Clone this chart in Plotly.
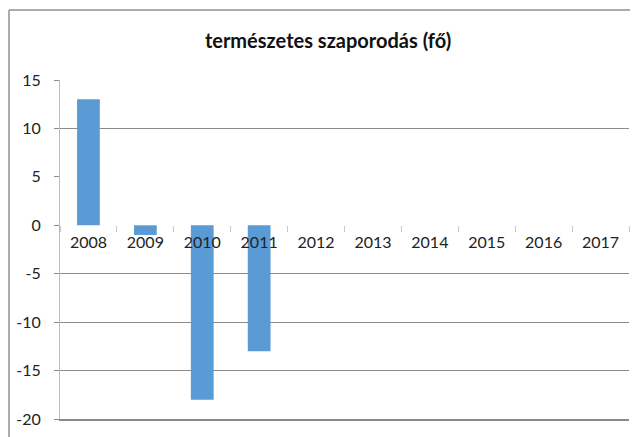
import plotly.graph_objects as go

years = ['2008', '2009', '2010', '2011', '2012', '2013', '2014', '2015', '2016', '2017']
values = [13, -1, -18, -13, None, None, None, None, None, None]
y_ticks = [-20, -15, -10, -5, 0, 5, 10, 15]
y_tick_labels = ['-20', '-15', '-10', '-5', '0', '5', '10', '15']
grid_vals = [-20, -15, -10, -5, 10, 15]
y_range = [-20, 15]
title_text = 'természetes szaporodás (fő)'

FONT = 'Lato'
OFF = 8  # page body margin of the html page
W, H = 638 - OFF, 437 - OFF
PL, PT, PW, PH = 60, 80, 569, 339  # plot area in page pixels
zero_pos = (0 - y_range[0]) / (y_range[1] - y_range[0])
cat_range = [-0.5, len(years) - 0.5]

fig = go.Figure()
# invisible copy on the main (grid) subplot so that its axes are drawn
fig.add_trace(go.Bar(x=years, y=values, marker=dict(color='rgba(0,0,0,0)', line=dict(width=0)),
                     xaxis='x', yaxis='y', hoverinfo='skip'))
# visible bars on the overlay subplot (labels at the zero line)
fig.add_trace(go.Bar(x=years, y=values, marker=dict(color='#5B9BD5', line=dict(width=0)),
                     xaxis='x2', yaxis='y2'))

bx = (9 - PL) / PW
ty = 1 + (PT - 10) / PH

fig.update_layout(
    width=W, height=H,
    margin=dict(l=PL - OFF, r=W - (PL - OFF) - PW, t=PT - OFF, b=H - (PT - OFF) - PH),
    paper_bgcolor='white', plot_bgcolor='white',
    showlegend=False,
    bargap=0.6,
    barmode='group',
    title=dict(text=title_text, x=(328 - OFF) / W, xref='container', xanchor='center',
               y=1 - (41 - OFF) / H, yref='container', yanchor='middle',
               font=dict(family=FONT, size=20, color='#111111', weight='bold')),
    xaxis=dict(type='category', range=cat_range, anchor='y', side='bottom',
               showgrid=False, zeroline=False, showticklabels=False, ticks='',
               showline=True, linecolor='#8a8a8a', linewidth=2),
    xaxis2=dict(type='category', range=cat_range, overlaying='x', anchor='free', position=zero_pos,
                showgrid=False, showline=False, zeroline=False,
                ticks='outside', tickson='boundaries', ticklen=6, tickcolor='#c6c6c6', tickwidth=1,
                ticklabelstandoff=6,
                tickfont=dict(family=FONT, size=16, color='#222222')),
    yaxis=dict(range=y_range, tickmode='array', tickvals=grid_vals,
               showgrid=True, gridcolor='#8c8c8c', gridwidth=1,
               zeroline=False, showticklabels=False, ticks='', showline=False),
    yaxis2=dict(overlaying='y', anchor='x', side='left', range=y_range,
                tickmode='array', tickvals=y_ticks, ticktext=y_tick_labels,
                showgrid=False, zeroline=False,
                showline=True, linecolor='#bdbdbd', linewidth=1,
                ticks='outside', ticklen=5, tickcolor='#8c8c8c',
                ticklabelstandoff=10,
                tickfont=dict(family=FONT, size=16, color='#222222')),
    shapes=[
        dict(type='line', xref='paper', yref='paper', x0=bx, x1=(640 - PL) / PW,
             y0=ty, y1=ty, line=dict(color='#8f8f8f', width=1.5)),
        dict(type='line', xref='paper', yref='paper', x0=bx, x1=bx,
             y0=ty, y1=-(437 - PT - PH + 2) / PH, line=dict(color='#8f8f8f', width=1.5)),
    ],
)

fig.write_html('out.html')
